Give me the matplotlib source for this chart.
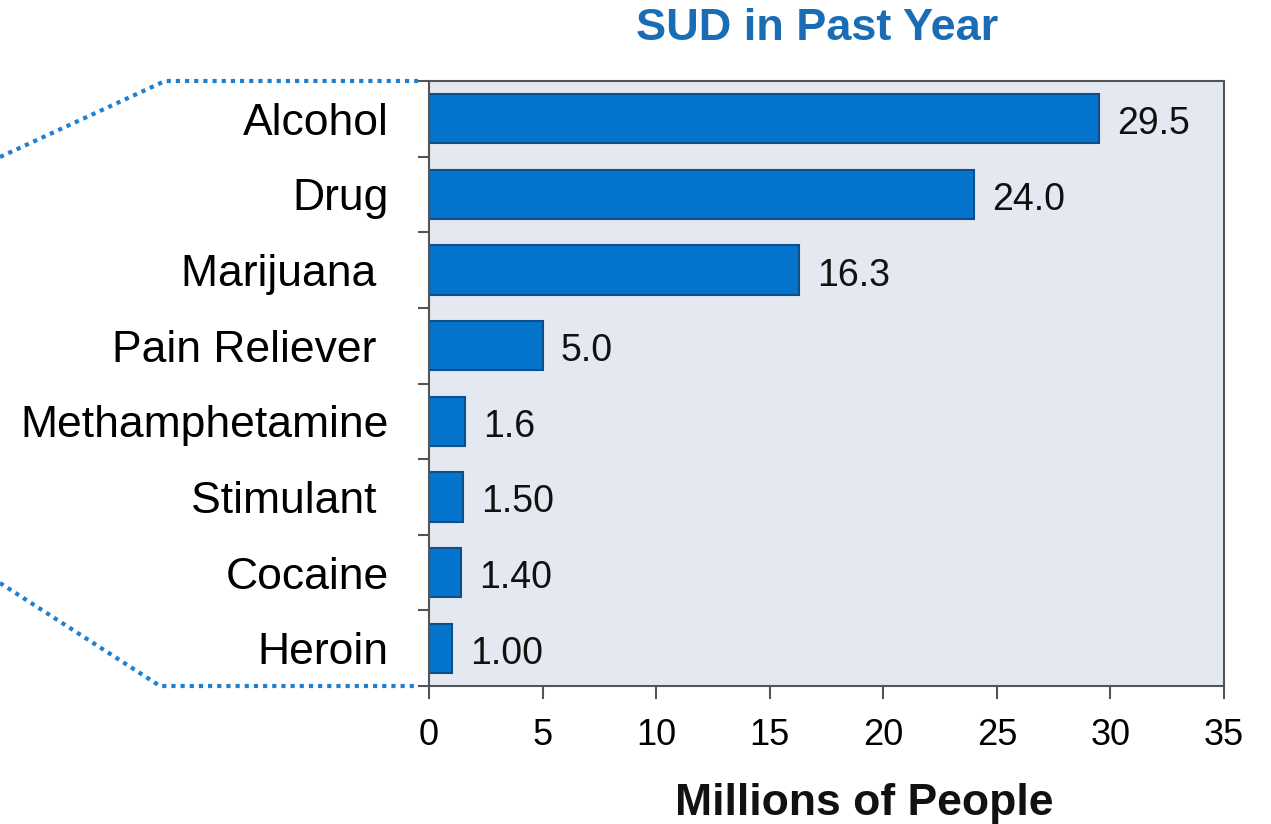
import matplotlib.pyplot as plt
from matplotlib.lines import Line2D
import numpy as np

plt.rcParams['font.family'] = ['Liberation Sans', 'DejaVu Sans']

# data
categories = ['Alcohol', 'Drug', 'Marijuana ', 'Pain Reliever ', 'Methamphetamine',
              'Stimulant ', 'Cocaine', 'Heroin']
values = [29.5, 24.0, 16.3, 5.0, 1.6, 1.5, 1.4, 1.0]
value_labels = ['29.5', '24.0', '16.3', '5.0', '1.6', '1.50', '1.40', '1.00']
xticks = [0, 5, 10, 15, 20, 25, 30, 35]

W, H = 1271, 824
fig = plt.figure(figsize=(W / 100, H / 100), dpi=100)
ax = fig.add_axes([429 / W, 1 - 686 / H, (1224 - 429) / W, (686 - 81) / H])
ax.set_facecolor('#e4e8f0')

pos = np.arange(len(categories))
ax.barh(pos, values, height=0.65, color='#0574cc', edgecolor='#0b4f8c', linewidth=1.5, zorder=2)
for p, v, lab in zip(pos, values, value_labels):
    ax.annotate(lab, (v, p), xytext=(13, -4), textcoords='offset points',
                va='center', ha='left', fontsize=27, color='#111111')

ax.set_xlim(0, 35)
ax.set_ylim(len(categories) - 0.5, -0.5)
ax.set_xticks(xticks)
ax.set_xticklabels([str(t) for t in xticks], fontsize=26)
ax.set_yticks(pos)
ax.set_yticklabels(categories, fontsize=32)
ax.set_yticks(np.arange(len(categories) + 1) - 0.5, minor=True)
ax.tick_params(axis='y', which='major', length=0, pad=29)
ax.tick_params(axis='y', which='minor', length=8, width=1.5, color='#555555')
ax.tick_params(axis='x', length=9, width=1.5, color='#555555', pad=14)

for s in ax.spines.values():
    s.set_color('#555555')
    s.set_linewidth(1.5)

fig.text(817 / W, 1 - 28 / H, 'SUD in Past Year', ha='center', va='center',
         fontsize=32.5, fontweight='bold', color='#1a6db5')
fig.text(864 / W, 1 - 804 / H, 'Millions of People', ha='center', va='center',
         fontsize=32, fontweight='bold', color='#111111')

# dotted callout lines on the left
dot = dict(color='#1f7fd0', linewidth=3, dashes=(1, 1.2), dash_capstyle='butt',
           transform=fig.transFigure)
fig.add_artist(Line2D([0, 165 / W, 418 / W], [1 - 157 / H, 1 - 81 / H, 1 - 81 / H], **dot))
fig.add_artist(Line2D([0, 160 / W, 418 / W], [1 - 583 / H, 1 - 686 / H, 1 - 686 / H], **dot))

fig.savefig('out.png', dpi=100)
